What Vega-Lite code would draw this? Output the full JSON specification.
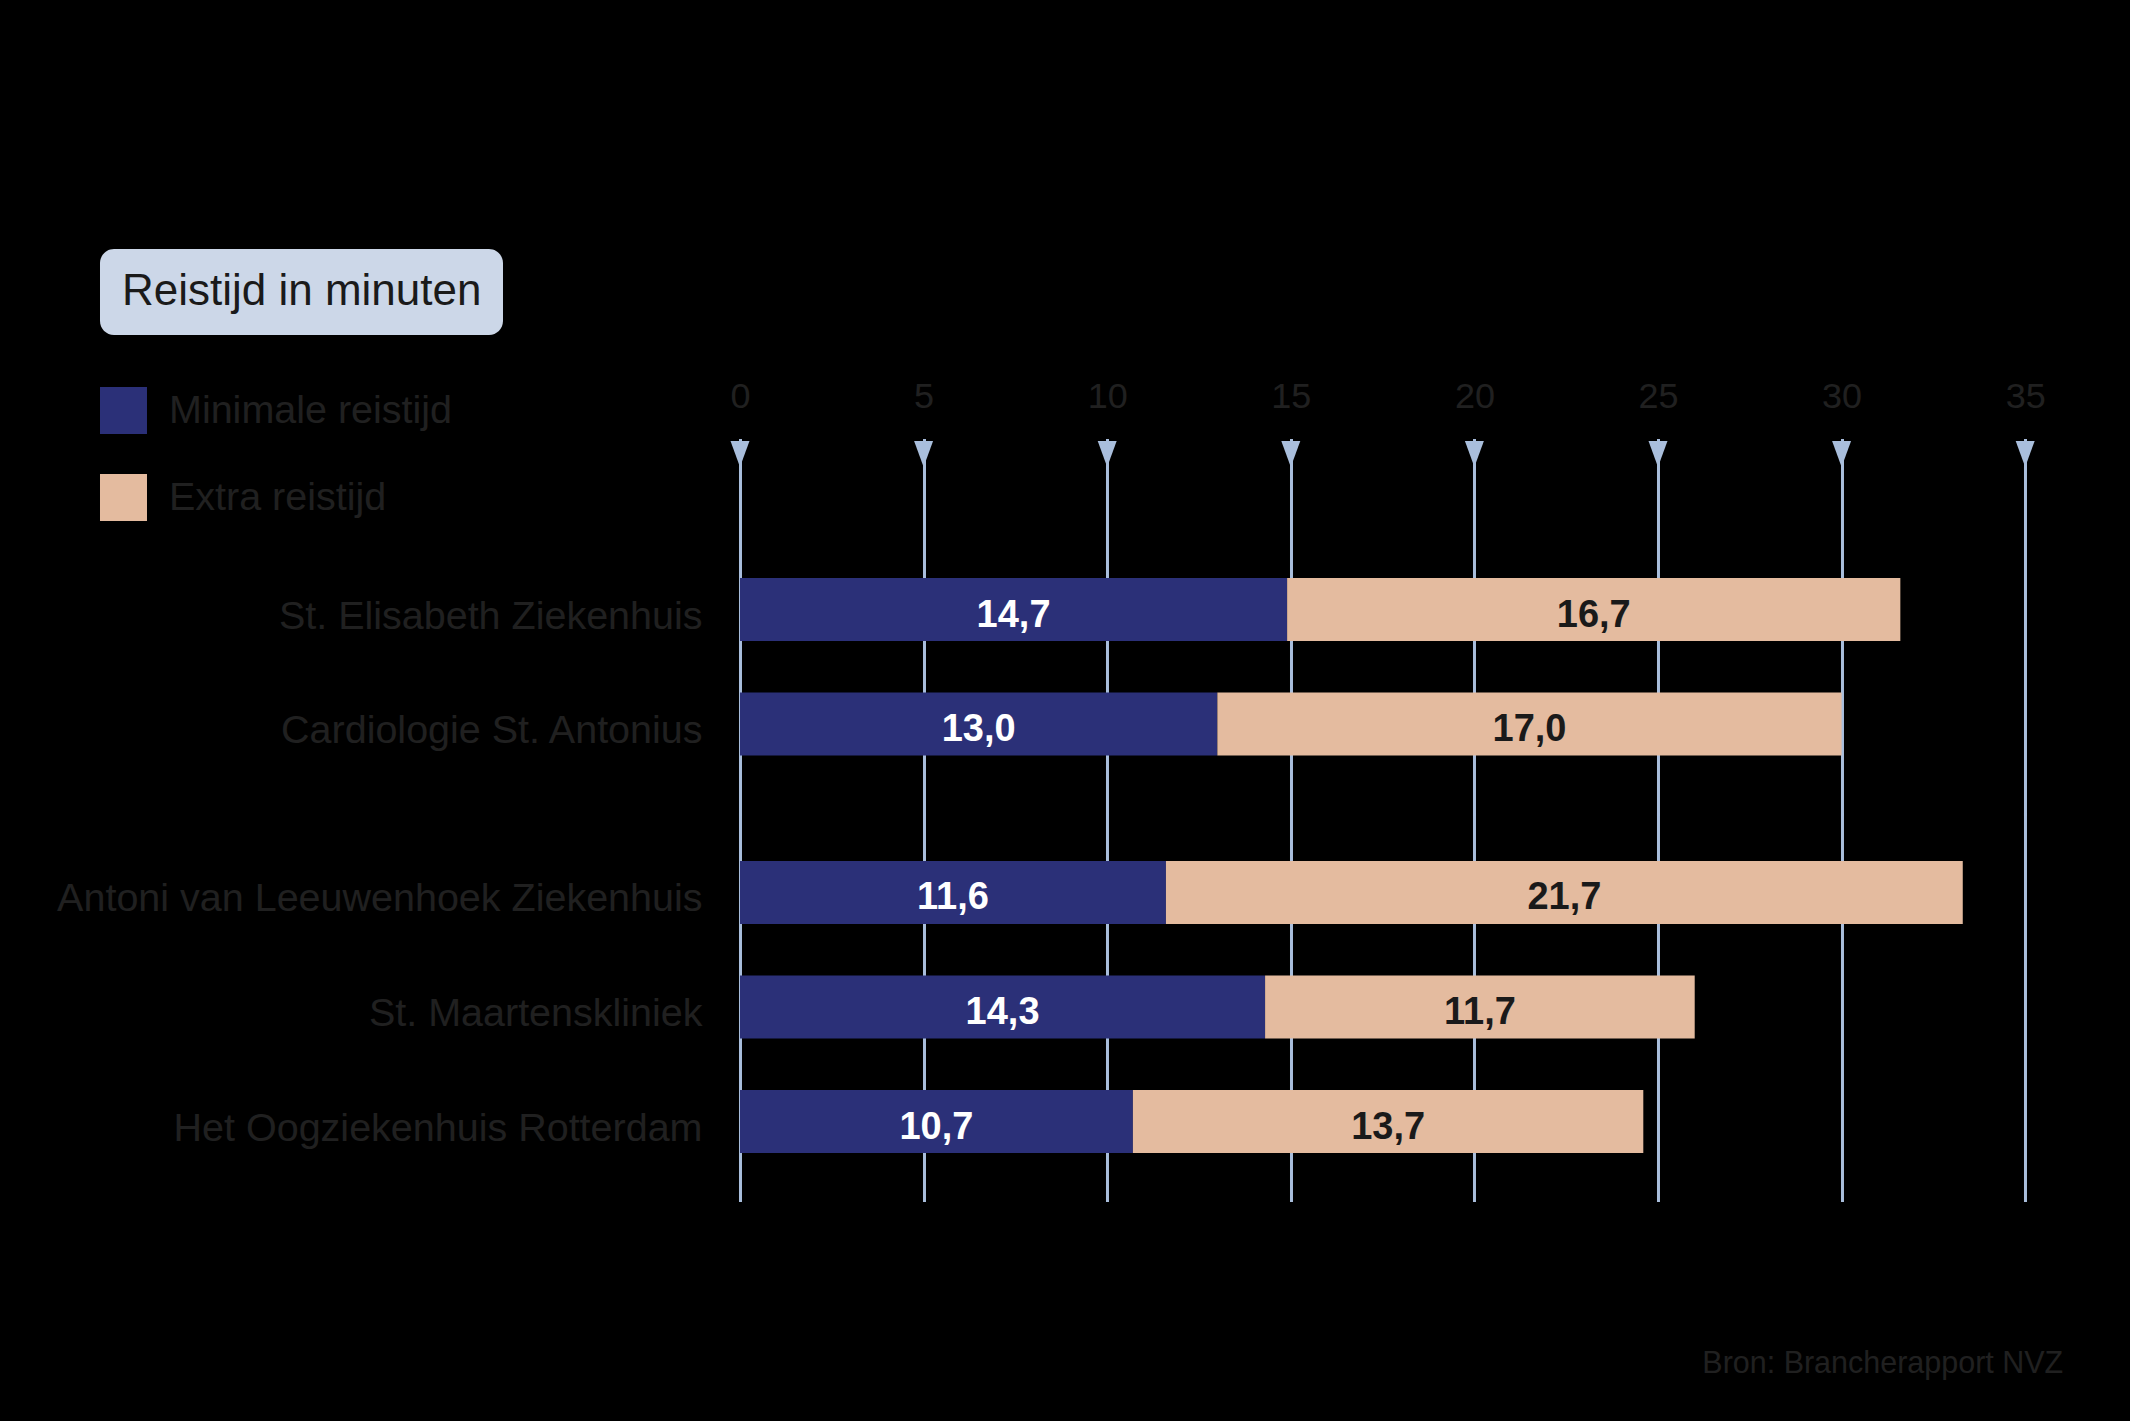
{
  "$schema": "https://vega.github.io/schema/vega-lite/v6.json",
  "background": "#000000",
  "padding": {"left": 56, "top": 249, "right": 67, "bottom": 44},
  "config": {
    "font": "Liberation Sans",
    "view": {"stroke": null},
    "axis": {"gridColor": "#a9bedc", "gridWidth": 3, "gridOpacity": 1, "gridCap": "square", "domain": false, "ticks": false, "title": null}
  },
  "datasets": {
    "boven": [
      {"ziekenhuis": "St. Elisabeth Ziekenhuis", "soort": "Minimale reistijd", "minuten": 14.9, "label": "14,7"},
      {"ziekenhuis": "St. Elisabeth Ziekenhuis", "soort": "Extra reistijd", "minuten": 16.7, "label": "16,7"},
      {"ziekenhuis": "Cardiologie St. Antonius", "soort": "Minimale reistijd", "minuten": 13.0, "label": "13,0"},
      {"ziekenhuis": "Cardiologie St. Antonius", "soort": "Extra reistijd", "minuten": 17.0, "label": "17,0"}
    ],
    "onder": [
      {"ziekenhuis": "Antoni van Leeuwenhoek Ziekenhuis", "soort": "Minimale reistijd", "minuten": 11.6, "label": "11,6"},
      {"ziekenhuis": "Antoni van Leeuwenhoek Ziekenhuis", "soort": "Extra reistijd", "minuten": 21.7, "label": "21,7"},
      {"ziekenhuis": "St. Maartenskliniek", "soort": "Minimale reistijd", "minuten": 14.3, "label": "14,3"},
      {"ziekenhuis": "St. Maartenskliniek", "soort": "Extra reistijd", "minuten": 11.7, "label": "11,7"},
      {"ziekenhuis": "Het Oogziekenhuis Rotterdam", "soort": "Minimale reistijd", "minuten": 10.7, "label": "10,7"},
      {"ziekenhuis": "Het Oogziekenhuis Rotterdam", "soort": "Extra reistijd", "minuten": 13.9, "label": "13,7"}
    ],
    "schaal": [
      {"minuten": 0, "as": "Reistijd in minuten"},
      {"minuten": 5, "as": "Reistijd in minuten"},
      {"minuten": 10, "as": "Reistijd in minuten"},
      {"minuten": 15, "as": "Reistijd in minuten"},
      {"minuten": 20, "as": "Reistijd in minuten"},
      {"minuten": 25, "as": "Reistijd in minuten"},
      {"minuten": 30, "as": "Reistijd in minuten"},
      {"minuten": 35, "as": "Reistijd in minuten"}
    ]
  },
  "title": {"text": "Bron: Brancherapport NVZ", "orient": "bottom", "anchor": "end", "fontSize": 30.5, "fontWeight": "normal", "color": "#202020", "offset": 149, "dx": 18},
  "spacing": 0,
  "bounds": "flush",
  "resolve": {"scale": {"x": "independent", "y": "independent", "color": "shared"}, "legend": {"color": "shared"}},
  "vconcat": [
    {
      "width": 1285.2,
      "height": 28,
      "data": {"name": "schaal"},
      "mark": {"type": "point", "filled": true, "opacity": 1, "size": 676, "color": "#a9bedc", "strokeWidth": 0},
      "encoding": {
        "x": {"field": "minuten", "type": "quantitative", "scale": {"domain": [0, 35], "nice": false},
          "axis": {"orient": "top", "values": [0, 5, 10, 15, 20, 25, 30, 35], "grid": true, "labelFontSize": 36, "labelColor": "#202020", "labelPadding": 33, "labelBaseline": "alphabetic", "labelFlush": false, "labelOverlap": false}},
        "shape": {"field": "as", "type": "nominal", "scale": {"range": ["M-0.73,-1L0.73,-1L0,1Z"]},
          "legend": {"orient": "none", "legendX": -640, "legendY": -191, "title": null, "fillColor": "#ccd7e8", "cornerRadius": 14, "padding": 21, "symbolSize": 25, "symbolOpacity": 0, "symbolStrokeWidth": 0, "labelFontSize": 44, "labelColor": "#1a1a1a", "labelOffset": -43, "labelLimit": 1000}}
      }
    },
    {
      "width": 1285.2,
      "height": 346,
      "data": {"name": "boven"},
      "transform": [{"stack": "minuten", "groupby": ["ziekenhuis"], "sort": [{"field": "soort", "order": "descending"}], "as": ["van", "tot"]}],
      "encoding": {
        "y": {"field": "ziekenhuis", "type": "nominal", "sort": null,
          "scale": {"paddingInner": 0.45, "paddingOuter": 0.736, "align": 0.653},
          "axis": {"labelFontSize": 39.5, "labelColor": "#202020", "labelPadding": 38, "labelLimit": 1000, "labelOffset": 7}}
      },
      "layer": [
        {
          "mark": {"type": "bar"},
          "encoding": {
            "x": {"field": "van", "type": "quantitative", "scale": {"domain": [0, 35], "nice": false},
              "axis": {"values": [0, 5, 10, 15, 20, 25, 30, 35], "grid": true, "labels": false}},
            "x2": {"field": "tot"},
            "color": {"field": "soort", "type": "nominal",
              "scale": {"domain": ["Minimale reistijd", "Extra reistijd"], "range": ["#2b3078", "#e4bb9f"]},
              "legend": {"orient": "none", "legendX": -640, "legendY": -53, "title": null, "symbolType": "square", "symbolSize": 2209, "symbolStrokeWidth": 0, "symbolOpacity": 1, "labelFontSize": 39.5, "labelColor": "#202020", "labelOffset": 22, "rowPadding": 40, "padding": 0, "labelLimit": 1000}}
          }
        },
        {
          "transform": [{"fold": ["van", "tot"], "as": ["grens", "waarde"]}],
          "mark": {"type": "text", "fontSize": 38, "fontWeight": "bold", "align": "center", "baseline": "middle", "dy": 6},
          "encoding": {
            "x": {"field": "waarde", "type": "quantitative", "aggregate": "mean"},
            "detail": {"field": "soort", "type": "nominal"},
            "text": {"field": "label", "type": "nominal"},
            "color": {"condition": {"test": "datum.soort === 'Minimale reistijd'", "value": "#ffffff"}, "value": "#1a1a1a"}
          }
        }
      ]
    },
    {
      "width": 1285.2,
      "height": 386,
      "data": {"name": "onder"},
      "transform": [{"stack": "minuten", "groupby": ["ziekenhuis"], "sort": [{"field": "soort", "order": "descending"}], "as": ["van", "tot"]}],
      "encoding": {
        "y": {"field": "ziekenhuis", "type": "nominal", "sort": null,
          "scale": {"paddingInner": 0.45, "paddingOuter": 0.41},
          "axis": {"labelFontSize": 39.5, "labelColor": "#202020", "labelPadding": 38, "labelLimit": 1000, "labelOffset": 7}}
      },
      "layer": [
        {
          "mark": {"type": "bar"},
          "encoding": {
            "x": {"field": "van", "type": "quantitative", "scale": {"domain": [0, 35], "nice": false},
              "axis": {"values": [0, 5, 10, 15, 20, 25, 30, 35], "grid": true, "labels": false}},
            "x2": {"field": "tot"},
            "color": {"field": "soort", "type": "nominal",
              "scale": {"domain": ["Minimale reistijd", "Extra reistijd"], "range": ["#2b3078", "#e4bb9f"]},
              "legend": {"orient": "none", "legendX": -640, "legendY": -53, "title": null, "symbolType": "square", "symbolSize": 2209, "symbolStrokeWidth": 0, "symbolOpacity": 1, "labelFontSize": 39.5, "labelColor": "#202020", "labelOffset": 22, "rowPadding": 40, "padding": 0, "labelLimit": 1000}}
          }
        },
        {
          "transform": [{"fold": ["van", "tot"], "as": ["grens", "waarde"]}],
          "mark": {"type": "text", "fontSize": 38, "fontWeight": "bold", "align": "center", "baseline": "middle", "dy": 6},
          "encoding": {
            "x": {"field": "waarde", "type": "quantitative", "aggregate": "mean"},
            "detail": {"field": "soort", "type": "nominal"},
            "text": {"field": "label", "type": "nominal"},
            "color": {"condition": {"test": "datum.soort === 'Minimale reistijd'", "value": "#ffffff"}, "value": "#1a1a1a"}
          }
        }
      ]
    }
  ]
}
